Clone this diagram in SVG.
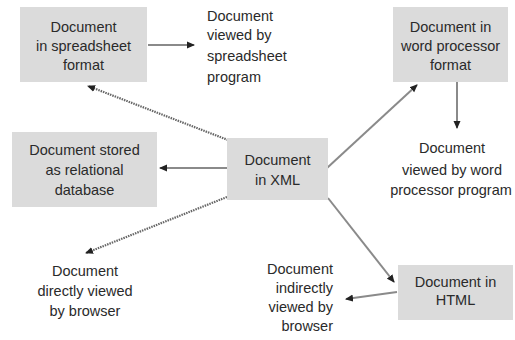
<svg xmlns="http://www.w3.org/2000/svg" width="515" height="340" viewBox="0 0 515 340">
<defs>
<style>
.box{fill:#dbdbdb;}
text{font-family:"Liberation Sans",Arial,sans-serif;font-size:14.5px;fill:#2a2a2a;}
.c{text-anchor:middle;}
.r{text-anchor:end;}
.ln{stroke:#8a8a8a;stroke-width:2;fill:none;}
.dt{stroke:#666;stroke-width:2.2;stroke-dasharray:1.5 1;fill:none;}
</style>
<marker id="ah" markerWidth="8" markerHeight="8" refX="7" refY="4" orient="auto" markerUnits="userSpaceOnUse">
<path d="M0,0.5 L8,4 L0,7.5 Z" fill="#222"/>
</marker>
</defs>
<rect width="515" height="340" fill="#fff"/>
<g id="connectors">
<line class="ln" x1="148" y1="45" x2="194" y2="45" marker-end="url(#ah)"/>
<line class="dt" x1="228" y1="140" x2="88" y2="86" marker-end="url(#ah)"/>
<line class="ln" x1="227" y1="168" x2="160" y2="168" marker-end="url(#ah)"/>
<line class="dt" x1="227" y1="197" x2="86" y2="253" marker-end="url(#ah)"/>
<line class="ln" x1="327" y1="168" x2="417" y2="85" marker-end="url(#ah)"/>
<line class="ln" x1="457" y1="82" x2="457" y2="128" marker-end="url(#ah)"/>
<line class="ln" x1="328" y1="198" x2="394" y2="282" marker-end="url(#ah)"/>
<line class="ln" x1="397" y1="292" x2="346" y2="299" marker-end="url(#ah)"/>
</g>
<g id="spreadsheet">
<rect class="box" x="20" y="7" width="127" height="75"/>
<text class="c" x="83.5" y="32">Document</text>
<text class="c" x="83.5" y="51">in spreadsheet</text>
<text class="c" x="83.5" y="70">format</text>
</g>
<g id="viewed-spreadsheet">
<text x="207" y="21">Document</text>
<text x="207" y="40">viewed by</text>
<text x="207" y="61">spreadsheet</text>
<text x="207" y="82">program</text>
</g>
<g id="wordproc">
<rect class="box" x="393" y="7" width="115" height="75"/>
<text class="c" x="450.5" y="32">Document in</text>
<text class="c" x="450.5" y="51">word processor</text>
<text class="c" x="450.5" y="70">format</text>
</g>
<g id="viewed-word">
<text class="c" x="452" y="153">Document</text>
<text class="c" x="452" y="175">viewed by word</text>
<text class="c" x="451" y="195">processor program</text>
</g>
<g id="relational">
<rect class="box" x="12" y="132" width="145" height="75"/>
<text class="c" x="84.5" y="155">Document stored</text>
<text class="c" x="84.5" y="175">as relational</text>
<text class="c" x="84.5" y="195">database</text>
</g>
<g id="xml">
<rect class="box" x="227" y="138" width="101" height="62"/>
<text class="c" x="277.5" y="165">Document</text>
<text class="c" x="277.5" y="185">in XML</text>
</g>
<g id="direct">
<text class="c" x="85" y="276">Document</text>
<text class="c" x="85" y="296">directly viewed</text>
<text class="c" x="85" y="316">by browser</text>
</g>
<g id="html">
<rect class="box" x="398" y="265" width="115" height="55"/>
<text class="c" x="455.5" y="287">Document in</text>
<text class="c" x="455.5" y="305">HTML</text>
</g>
<g id="indirect">
<text class="r" x="333" y="274">Document</text>
<text class="r" x="333" y="293">indirectly</text>
<text class="r" x="333" y="312">viewed by</text>
<text class="r" x="333" y="331">browser</text>
</g>
</svg>
